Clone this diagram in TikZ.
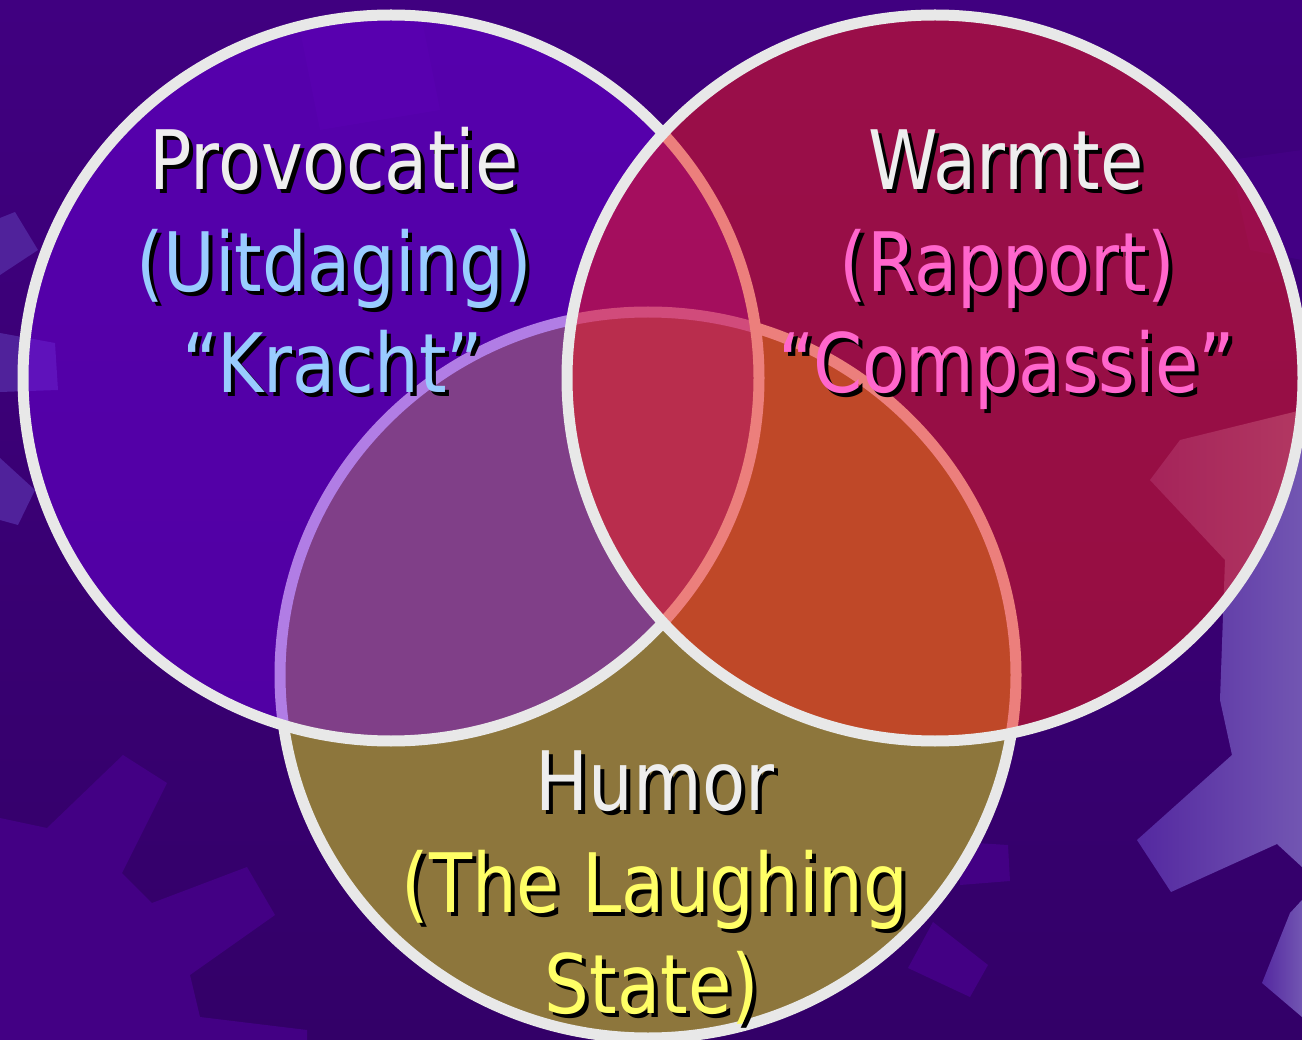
\documentclass[tikz,border=0pt]{standalone}
\usepackage{fontspec}
\newfontfamily\vennfont{DejaVu Sans}[FakeStretch=0.86]
\usepackage{xcolor}
\usepackage{tikz}
\usetikzlibrary{positioning}

\definecolor{bgtop}{RGB}{64,0,128}
\definecolor{bgbottom}{RGB}{51,0,104}
\definecolor{bgpatch}{RGB}{67,0,132}
\definecolor{bglilac}{RGB}{80,34,155}
\definecolor{gearleft}{RGB}{84,40,160}
\definecolor{gearright}{RGB}{114,86,178}
\definecolor{ringgray}{RGB}{232,232,232}
\definecolor{provfill}{RGB}{113,0,226}
\definecolor{warmfill}{RGB}{240,29,23}
\definecolor{humorfill}{RGB}{141,118,60}
\definecolor{titlewhite}{RGB}{238,238,238}
\definecolor{provblue}{RGB}{153,204,255}
\definecolor{warmpink}{RGB}{255,102,204}
\definecolor{humoryellow}{RGB}{255,255,102}

% text with a black drop shadow behind it
\newcommand{\shadowed}[1]{\rlap{\kern4pt\raisebox{-4pt}{\color{black}#1}}#1}

\begin{document}
\begin{tikzpicture}[x=1pt, y=-1pt]
\tikzstyle{ring} = [line width=11pt, draw=ringgray]
\tikzstyle{venntext} = [anchor=base, inner sep=0pt, font=\vennfont\fontsize{82}{102}\selectfont]

\useasboundingbox (0,0) rectangle (1302,1040);
\clip (0,0) rectangle (1302,1040);

% background
\shade [top color=bgtop, bottom color=bgbottom] (0,0) rectangle (1302,1040);
\fill [bgpatch] (0,818) -- (47,828) -- (123,755) -- (167,783) -- (122,873) -- (152,903)
  -- (247,867) -- (275,915) -- (190,975) -- (200,1017) -- (307,1030) -- (307,1040) -- (0,1040) -- cycle;
\fill [bgpatch] (960,842) -- (1008,845) -- (1010,881) -- (960,885) -- cycle;
\fill [bgpatch] (933,922) -- (988,965) -- (970,997) -- (908,968) -- cycle;
\fill [bgpatch] (300,30) -- (420,10) -- (440,110) -- (320,130) -- cycle;
\fill [bgpatch] (1230,160) -- (1302,150) -- (1302,260) -- (1250,250) -- cycle;
\fill [bglilac] (0,218) -- (15,212) -- (38,250) -- (0,275) -- cycle;
\fill [bglilac] (0,333) -- (55,343) -- (58,390) -- (0,392) -- cycle;
\fill [bglilac] (0,458) -- (35,490) -- (18,525) -- (0,520) -- cycle;
\shade [left color=gearleft, right color=gearright] (1180,440) -- (1302,410) -- (1302,867)
  -- (1277,844) -- (1171,892) -- (1137,840) -- (1232,755) -- (1220,700) -- (1225,560) -- (1150,480) -- cycle;
\shade [left color=gearleft, right color=gearright] (1302,900) -- (1290,913) -- (1262,983) -- (1302,1017) -- cycle;

% circles
\coordinate (humorc) at (648,675);
\coordinate (provc) at (391,378);
\coordinate (warmc) at (935,378);

\fill [humorfill] (humorc) ellipse [x radius=368pt, y radius=363pt];
\draw [ring] (humorc) ellipse [x radius=368pt, y radius=363pt];
\fill [provfill, fill opacity=0.46] (provc) ellipse [x radius=368pt, y radius=363pt];
\draw [ring] (provc) ellipse [x radius=368pt, y radius=363pt];
\fill [warmfill, fill opacity=0.515] (warmc) ellipse [x radius=368pt, y radius=363pt];
\draw [ring] (warmc) ellipse [x radius=368pt, y radius=363pt];

% labels
\node [venntext, text=titlewhite] (provocatie) at (334,190) {\shadowed{Provocatie}};
\node [venntext, text=provblue] (uitdaging) at (334,292) {\shadowed{(Uitdaging)}};
\node [venntext, text=provblue] (kracht) at (333,393) {\shadowed{“Kracht”}};
\node [venntext, text=titlewhite] (warmte) at (1006,190) {\shadowed{Warmte}};
\node [venntext, text=warmpink] (rapport) at (1007,292) {\shadowed{(Rapport)}};
\node [venntext, text=warmpink] (compassie) at (1007,393) {\shadowed{“Compassie”}};
\node [venntext, text=titlewhite] (humor) at (655,810) {\shadowed{Humor}};
\node [venntext, text=humoryellow] (laughing) at (655,912) {\shadowed{(The Laughing}};
\node [venntext, text=humoryellow] (state) at (652,1013) {\shadowed{State)}};

\end{tikzpicture}
\end{document}
